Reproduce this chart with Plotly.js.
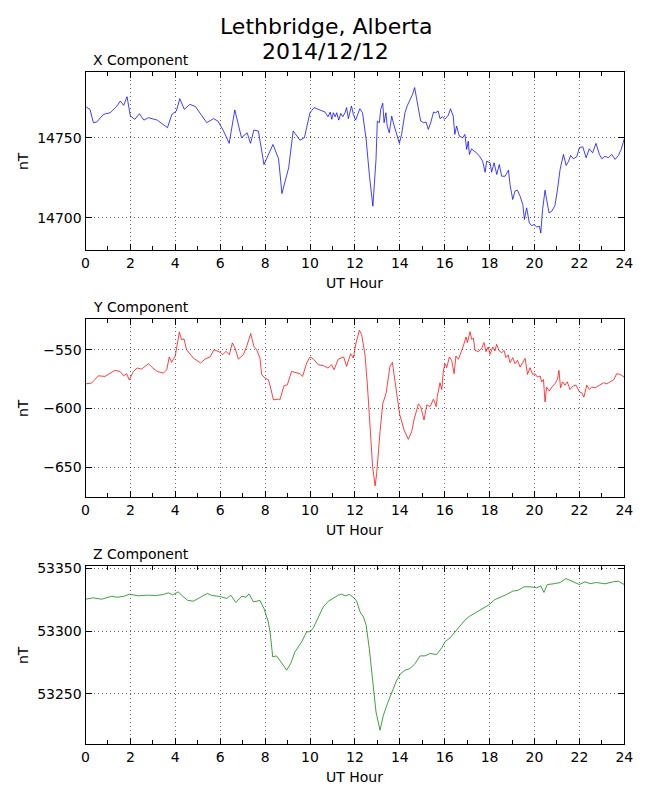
<!DOCTYPE html>
<html>
<head>
<meta charset="utf-8">
<script src="https://cdn.plot.ly/plotly-3.0.1.min.js"></script>
<style>
  body { margin: 0; background: #fff; }
  #plot { width: 650px; height: 800px; }
</style>
</head>
<body>
<div id="plot"></div>
<script>
// magnetometer readings, UT hour vs nT
var xHours = [0, 0.2, 0.35, 0.5, 0.8, 1.1, 1.4, 1.55, 1.7, 1.85, 2.0, 2.2, 2.4, 2.6, 2.8, 3.2, 3.65, 3.85, 4.05, 4.2,
  4.4, 4.65, 4.9, 5.1, 5.4, 5.7, 5.9, 6.15, 6.4, 6.65, 6.95, 7.2, 7.35, 7.5, 7.7, 7.95, 8.15, 8.35, 8.6, 8.75,
  9.05, 9.25, 9.55, 9.75,
  9.85, 10.0, 10.18, 10.45, 10.67, 10.8, 10.9, 10.97, 11.04, 11.12, 11.19, 11.28, 11.37, 11.46, 11.56, 11.63, 11.71, 11.78, 11.85, 11.93,
  12.03, 12.1, 12.22, 12.34, 12.45, 12.5, 12.65, 12.8, 12.94, 13.0, 13.09, 13.15, 13.24, 13.3, 13.38, 13.44, 13.53, 13.64, 13.71, 13.86,
  13.98, 14.08, 14.23, 14.34, 14.46, 14.57, 14.66, 14.75, 14.84, 14.93, 15.05, 15.17, 15.27, 15.38, 15.5, 15.6, 15.71, 15.79, 15.9, 16.0,
  16.16, 16.26, 16.38, 16.45, 16.53, 16.65,
  16.8, 16.9, 16.98, 17.05, 17.1, 17.2, 17.31, 17.42, 17.57, 17.69, 17.8, 17.87, 18.02, 18.09, 18.2, 18.32, 18.43, 18.54, 18.69, 18.84,
  18.91, 19.03, 19.13, 19.24, 19.36, 19.48, 19.55, 19.65, 19.77, 19.87, 19.98, 20.1, 20.22, 20.28, 20.36, 20.47, 20.54, 20.65, 20.77, 20.91,
  21.02, 21.14, 21.29, 21.41, 21.52, 21.61, 21.73, 21.88, 22.0, 22.15, 22.3, 22.44, 22.59, 22.74, 22.89, 23.0, 23.14, 23.29, 23.44, 23.59,
  23.74, 23.86, 24.0];
var xVals = [14769.4, 14767.7, 14759.4, 14759.8, 14764.6, 14765.6, 14769.8, 14772.9, 14770.2, 14775.6, 14763.5, 14761.5, 14765, 14761, 14762.5, 14761, 14756.3, 14764.6, 14766.7, 14774.4,
  14767.7, 14770.8, 14769.4, 14765.6, 14759.4, 14761.9, 14760.4, 14754.2, 14746.5, 14767.3, 14750, 14753.1, 14746.5, 14754.8, 14754.2, 14733.3, 14739.6, 14745.8, 14736.9, 14715.2,
  14731.3, 14754.2, 14748.5, 14750,
  14756.3, 14765.6, 14768.8, 14767.1, 14766.0, 14763.1, 14766.0, 14761.5, 14765.6, 14763.1, 14765.6, 14761.0, 14765.2, 14763.1, 14765.6, 14768.8, 14761.9, 14766.0, 14769.8, 14764.6,
  14761.0, 14763.5, 14768.1, 14765.6, 14755.2, 14749.0, 14726.0, 14707.3, 14736.5, 14760.4, 14759.4, 14767.7, 14771.5, 14759.4, 14765.6, 14757.3, 14753.1, 14763.5, 14759.4, 14752.1,
  14746.5, 14752.1, 14765.6, 14770.2, 14774.0, 14777.1, 14781.3, 14775.0, 14767.7, 14760.4, 14759.4, 14759.8, 14755.2, 14759.4, 14766.0, 14765.6, 14766.7, 14761.9, 14763.1, 14761.5,
  14764.0, 14768.1, 14763.5, 14752.1, 14757.3, 14751.0,
  14750.0, 14752.1, 14742.7, 14747.9, 14739.6, 14743.1, 14741.7, 14740.6, 14738.1, 14735.4, 14728.5, 14735.4, 14734.4, 14728.5, 14734.4, 14727.1, 14733.3, 14726.0, 14726.0, 14729.8,
  14720.8, 14711.5, 14716.7, 14717.3, 14713.5, 14708.3, 14699.0, 14706.3, 14696.9, 14695.2, 14695.8, 14694.4, 14694.8, 14690.6, 14705.2, 14717.3, 14711.5, 14703.1, 14704.2, 14707.7,
  14717.3, 14730.2, 14739.6, 14732.7, 14735.4, 14739.0, 14736.9, 14738.1, 14743.8, 14744.4, 14737.5, 14743.1, 14740.6, 14746.5, 14739.6, 14736.9, 14738.5, 14737.5, 14739.6, 14736.5,
  14739.0, 14742.7, 14749.4];

var yHours = [0, 0.27, 0.38, 0.57, 0.87, 1.1, 1.3, 1.54, 1.7, 1.83, 1.95, 2.13, 2.3, 2.5, 2.8, 3.0, 3.2, 3.47, 3.62, 3.73,
  3.84, 4.0, 4.18, 4.28, 4.39, 4.5, 4.8, 5.13, 5.32, 5.55, 5.72, 6.0, 6.11, 6.26, 6.41, 6.54, 6.66, 6.81, 7.03, 7.18,
  7.36, 7.5, 7.62, 7.77, 7.85, 8.0, 8.15, 8.25, 8.37, 8.6, 8.66, 8.84, 8.99, 9.18, 9.38, 9.55, 9.67, 9.85, 10.0, 10.15,
  10.37, 10.6, 10.8, 10.96, 11.07, 11.26, 11.5, 11.63, 11.81, 11.93,
  12.05, 12.2, 12.3, 12.45, 12.55, 12.67, 12.79, 12.9, 12.97, 13.12, 13.24, 13.39, 13.49, 13.56, 13.67, 13.76, 13.86, 14.0, 14.19, 14.38,
  14.53, 14.63, 14.83, 14.93, 15.08, 15.2, 15.35, 15.5, 15.62, 15.67,
  15.79, 15.87, 15.94, 16.01, 16.09, 16.21, 16.31, 16.42, 16.5, 16.61, 16.71, 16.83, 16.95, 17.01, 17.13, 17.2, 17.28, 17.35, 17.5, 17.65,
  17.75, 17.84, 17.94, 18.02, 18.14, 18.24, 18.31, 18.43, 18.54, 18.64, 18.73, 18.83, 18.91, 19.03, 19.13, 19.24, 19.36, 19.48, 19.58, 19.69,
  19.8, 19.92, 20.02, 20.13, 20.25, 20.32, 20.4, 20.47, 20.54, 20.66, 20.77, 20.91, 21.02, 21.09, 21.16, 21.25, 21.36, 21.46, 21.58, 21.7,
  21.85, 22.0, 22.1, 22.2, 22.33, 22.44, 22.55, 22.7, 22.89, 23.07, 23.22, 23.39, 23.54, 23.66, 23.81, 24.0];
var yVals = [-579.0, -578.4, -576.1, -572.2, -572.7, -569.9, -567.6, -568.5, -572.2, -570.4, -575.6, -568.5, -565.6, -566.5, -561.9, -565.6, -568.5, -569.9, -567.0, -556.2,
  -560.8, -555.1, -535.2, -541.5, -540.9, -550, -557.1, -561.4, -558.0, -556.2, -550, -552.3, -554.3, -551.4, -554.3, -544.3, -548.6, -558.0, -554.3, -547.2,
  -536.4, -547.2, -550, -557.1, -571.3, -574.1, -575.6, -582.7, -592.6, -592.0, -592.6, -580.7, -579.8, -568.5, -569.3, -570.4, -572.7, -561.4, -556.2, -558.0,
  -562.8, -563.6, -565.6, -562.8, -567.0, -558.0, -556.2, -564.2, -553.4, -557.1,
  -544.3, -533.5, -537.2, -554.3, -578.4, -615.3, -649.4, -665.5, -655.1, -619.6, -596.0, -586.9, -575.6, -564.2, -560.8, -571.3, -586.9, -605.4, -618.2, -626.1,
  -619.6, -609.6, -596.0, -598.3, -609.6, -596.9, -598.3, -592.0, -598.3, -589.8,
  -578.1, -583.8, -568.2, -561.9, -565.3, -556.2, -559.1, -570.4, -555.4, -558.2, -553.4, -546.9, -539.2, -544.0, -534.7, -541.2, -540.3, -550.6, -551.7, -548.9,
  -544.0, -551.7, -547.7, -554.0, -547.7, -551.1, -545.5, -551.1, -552.6, -550.6, -556.8, -554.5, -561.1, -556.8, -561.9, -559.1, -564.8, -560.2, -557.4, -571.0,
  -565.3, -571.0, -570.4, -573.3, -572.4, -577.3, -575.3, -594.3, -581.8, -585.2, -581.8, -579.0, -575.3, -567.6, -582.4, -577.3, -580.1, -577.3, -583.8, -581.0,
  -580.1, -585.8, -586.6, -590.3, -580.1, -583.8, -581.8, -582.4, -580.1, -578.1, -579.0, -577.3, -575.3, -570.4, -571.0, -573.3];

var zHours = [0, 0.35, 0.72, 1.17, 1.39, 1.69, 1.95, 2.35, 2.72, 3.17, 3.47, 3.69, 3.88, 4.13, 4.28, 4.54, 4.8, 5.1, 5.43, 5.62,
  6.0, 6.29, 6.47, 6.7, 6.96, 7.15, 7.28, 7.48, 7.77, 7.95, 8.14, 8.22, 8.34, 8.51, 8.66, 8.81, 8.96, 9.14, 9.33, 9.63,
  9.85, 10.0, 10.15, 10.37, 10.59, 10.82, 11.04, 11.26, 11.41, 11.56, 11.75, 11.96,
  12.08, 12.23, 12.38, 12.5, 12.64, 12.79, 12.94, 13.12, 13.27, 13.45, 13.64, 13.86, 14.04, 14.23, 14.46, 14.68, 14.9, 15.12, 15.35, 15.64,
  15.87, 16.01, 16.24, 16.46, 16.68, 16.9, 17.13, 17.39, 17.65, 17.94, 18.24, 18.54, 18.76, 19.03, 19.28, 19.53, 19.8, 20.1, 20.28, 20.42,
  20.57, 20.84, 21.14, 21.4, 21.66, 22.0, 22.25, 22.47, 22.77, 23.14, 23.51, 23.73, 24.0];
var zVals = [53325.5, 53326.6, 53325.5, 53327.9, 53327.1, 53327.7, 53329.5, 53328.2, 53328.7, 53328.5, 53329.3, 53330.6, 53329.0, 53331.4, 53328.7, 53324.7, 53323.9, 53326.9, 53330.1, 53328.5,
  53327.7, 53326.1, 53328.7, 53322.9, 53327.9, 53327.1, 53329.8, 53323.4, 53324.5, 53318.1, 53307.4, 53299.5, 53279.5, 53280.3, 53276.1, 53272.9, 53268.9, 53274.2, 53283.5, 53291.5,
  53299.5, 53299.5, 53302.7, 53311.4, 53319.4, 53323.9, 53326.6, 53328.7, 53329.5, 53328.2, 53329.3, 53326.6,
  53323.9, 53315.4, 53311.4, 53304.8, 53286.2, 53259.6, 53235.6, 53221.0, 53233.0, 53242.3, 53250.3, 53260.9, 53266.2, 53268.9, 53270.2, 53274.2, 53280.3, 53280.3, 53282.2, 53281.4,
  53286.7, 53291.5, 53294.7, 53299.5, 53304.3, 53308.8, 53312.2, 53314.9, 53318.1, 53320.7, 53325.3, 53327.4, 53329.3, 53331.9, 53332.7, 53335.4, 53335.4, 53334.6, 53336.2, 53330.9,
  53337.2, 53337.8, 53338.8, 53342.0, 53339.9, 53337.2, 53339.4, 53338.0, 53338.8, 53337.8, 53339.4, 53339.9, 53337.2];

var titleLines = ['Lethbridge, Alberta', '2014/12/12'];
var panelNames = ['X Component', 'Y Component', 'Z Component'];
var panelColors = ['#0000ff', '#ff0000', '#008000'];

var FONT = 'DejaVu Sans, Liberation Sans, sans-serif';
var FS = 14;

var traces = [
  {x: xHours, y: xVals, xaxis: 'x', yaxis: 'y'},
  {x: yHours, y: yVals, xaxis: 'x2', yaxis: 'y2'},
  {x: zHours, y: zVals, xaxis: 'x3', yaxis: 'y3'}
].map(function (t, i) {
  t.type = 'scatter';
  t.mode = 'lines';
  t.line = {color: panelColors[i], width: 0.75};
  t.hoverinfo = 'skip';
  return t;
});

function xAx(anchor) {
  return {
    anchor: anchor,
    domain: [85.5 / 650, 624.3 / 650],
    range: [0, 24],
    dtick: 2, tick0: 0,
    ticks: 'inside', ticklen: 6, tickcolor: '#000',
    minor: {dtick: 1, ticks: 'inside', ticklen: 4, tickcolor: '#000', showgrid: false},
    showline: true, linecolor: '#000', linewidth: 1, mirror: 'allticks',
    showgrid: true, gridcolor: '#000', gridwidth: 0.6, griddash: '1px,3px',
    zeroline: false,
    tickfont: {family: FONT, size: FS, color: '#000'},
    fixedrange: true
  };
}

function yAx(anchor, top, bottom, range, fmt) {
  return {
    anchor: anchor,
    domain: [1 - bottom / 800, 1 - top / 800],
    range: range,
    dtick: 50, tick0: 0,
    tickformat: fmt,
    ticks: 'inside', ticklen: 6, tickcolor: '#000',
    showline: true, linecolor: '#000', linewidth: 1, mirror: 'allticks',
    showgrid: true, gridcolor: '#000', gridwidth: 0.6, griddash: '1px,3px',
    zeroline: false,
    tickfont: {family: FONT, size: FS, color: '#000'},
    fixedrange: true
  };
}

var panelTops = [72, 319, 566];
var panelH = 178;

var annotations = [];
// main title, two centred lines
titleLines.forEach(function (line, i) {
  annotations.push({
    text: line, xref: 'paper', yref: 'paper',
    x: 326 / 650, y: 1 - (27 + i * 25) / 800, xanchor: 'center', yanchor: 'middle',
    showarrow: false, font: {family: FONT, size: 22, color: '#000'}
  });
});
panelTops.forEach(function (top, i) {
  annotations.push({
    text: panelNames[i], xref: 'paper', yref: 'paper',
    x: 91 / 650, y: 1 - (top - 12) / 800, xanchor: 'left', yanchor: 'middle',
    showarrow: false, font: {family: FONT, size: FS, color: '#000'}
  });
  annotations.push({
    text: 'UT Hour', xref: 'paper', yref: 'paper',
    x: 354 / 650, y: 1 - (top + panelH + 33) / 800, xanchor: 'center', yanchor: 'middle',
    showarrow: false, font: {family: FONT, size: FS, color: '#000'}
  });
  annotations.push({
    text: 'nT', xref: 'paper', yref: 'paper', textangle: -90,
    x: 23 / 650, y: 1 - (top + panelH / 2) / 800, xanchor: 'center', yanchor: 'middle',
    showarrow: false, font: {family: FONT, size: FS, color: '#000'}
  });
});

var layout = {
  width: 650, height: 800,
  margin: {l: 0, r: 0, t: 0, b: 0},
  paper_bgcolor: '#fff', plot_bgcolor: '#fff',
  showlegend: false,
  xaxis: xAx('y'), xaxis2: xAx('y2'), xaxis3: xAx('y3'),
  yaxis: yAx('x', 72, 250, [14680, 14791], 'd'),
  yaxis2: yAx('x2', 319, 497, [-675, -524], ''),
  yaxis3: yAx('x3', 566, 744, [53210, 53352], 'd'),
  annotations: annotations
};

Plotly.newPlot('plot', traces, layout, {displayModeBar: false, staticPlot: true});
</script>
</body>
</html>
